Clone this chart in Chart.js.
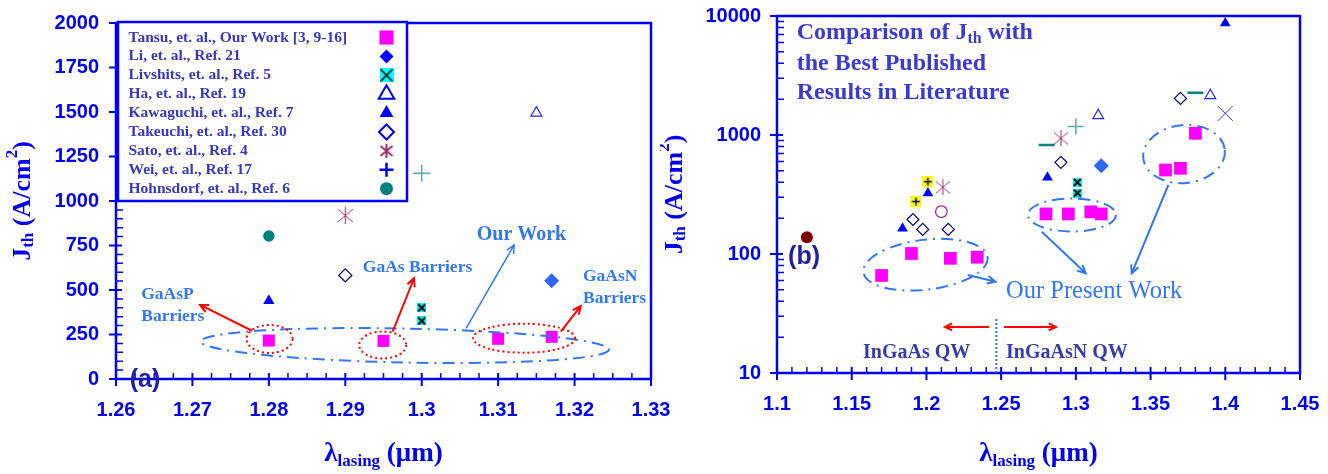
<!DOCTYPE html>
<html>
<head>
<meta charset="utf-8">
<script src="https://cdn.jsdelivr.net/npm/chart.js@4.4.1/dist/chart.umd.min.js"></script>
<style>
  html, body { margin: 0; padding: 0; background: #fff; }
  #wrap { position: relative; width: 1328px; height: 474px; overflow: hidden; }
  #chartA { position: absolute; left: 0; top: 0; width: 690px; height: 474px; }
  #chartB { position: absolute; left: 660px; top: 0; width: 668px; height: 474px; }
</style>
</head>
<body>
<div id="wrap">
  <canvas id="chartA" width="690" height="474"></canvas>
  <canvas id="chartB" width="668" height="474"></canvas>
</div>
<script>
// ---- panel (a): [lambda (um), Jth (A/cm2)] ----
var tansuA = [[1.28, 216], [1.295, 214], [1.31, 226], [1.317, 237]];
var liA = [[1.317, 552]];
var livshitsA = [[1.30, 400], [1.30, 326]];
var haA = [[1.315, 1495]];
var kawaguchiA = [[1.28, 440]];
var takeuchiA = [[1.29, 582]];
var satoA = [[1.29, 918]];
var weiA = [[1.30, 1156]];
var hohnsdorfA = [[1.28, 803]];

// ---- panel (b) ----
var tansuB = [[1.17, 66], [1.19, 101], [1.216, 92], [1.234, 94], [1.28, 217], [1.295, 217],
              [1.31, 226], [1.317, 217], [1.36, 508], [1.37, 525], [1.38, 1033]];
var liB = [[1.317, 552]];
var livshitsB = [[1.301, 400], [1.301, 325]];
var haB = [[1.315, 1460], [1.39, 2150]];
var kawaguchiB = [[1.184, 164], [1.201, 324], [1.281, 440], [1.40, 8700]];
var takeuchiB = [[1.191, 195], [1.1975, 161], [1.2146, 161], [1.29, 589], [1.37, 2030]];
var satoB = [[1.211, 363], [1.29, 937]];
var weiB = [[1.30, 1176]];
var weiYellowB = [[1.193, 276], [1.201, 405]];
var dashB = [[1.2805, 824], [1.38, 2265]];
var circleB = [[1.21, 227]];
var brownB = [[1.12, 138]];
var crossB = [[1.40, 1520]];

var xTicksA = [1.26, 1.27, 1.28, 1.29, 1.3, 1.31, 1.32, 1.33];
var yTicksA = [0, 250, 500, 750, 1000, 1250, 1500, 1750, 2000];
var xTicksB = [1.1, 1.15, 1.2, 1.25, 1.3, 1.35, 1.4, 1.45];
var yTicksB = [10, 100, 1000, 10000];

var AXIS = '#0000f0';
var LIGHT = '#3377ee';
var LEG_TXT = '#3838b8';
var SERIF = '"Liberation Serif", "Times New Roman", serif';
var SANS = '"Liberation Sans", Arial, sans-serif';
var NONE = 'rgba(0,0,0,0)';

function pts(a) { return a.map(function (p) { return { x: p[0], y: p[1] }; }); }

// small canvases used as point styles
function mk(size, draw) {
  var c = document.createElement('canvas');
  c.width = size; c.height = size;
  draw(c.getContext('2d'), size);
  return c;
}
function boxX(s, lw) {
  return mk(s, function (g) {
    g.fillStyle = '#00ffff'; g.fillRect(0, 0, s, s);
    g.strokeStyle = '#000'; g.lineWidth = lw;
    g.beginPath(); g.moveTo(1, 1); g.lineTo(s - 1, s - 1); g.moveTo(s - 1, 1); g.lineTo(1, s - 1); g.stroke();
  });
}
function asterisk(s, color, lw) {
  return mk(s, function (g) {
    g.strokeStyle = color; g.lineWidth = lw;
    g.beginPath();
    g.moveTo(s / 2, 0); g.lineTo(s / 2, s);
    g.moveTo(1, 2); g.lineTo(s - 1, s - 2);
    g.moveTo(s - 1, 2); g.lineTo(1, s - 2);
    g.stroke();
  });
}
function yellowPlus(s) {
  return mk(s, function (g) {
    g.fillStyle = '#ffff00'; g.fillRect(0, 0, s, s);
    g.strokeStyle = '#000080'; g.lineWidth = 1.5;
    g.beginPath(); g.moveTo(s / 2, 1.5); g.lineTo(s / 2, s - 1.5); g.moveTo(1.5, s / 2); g.lineTo(s - 1.5, s / 2); g.stroke();
  });
}

function ds(label, data, style, r, fill, stroke, bw) {
  return {
    label: label, data: pts(data), showLine: false, clip: false,
    pointStyle: style, pointRadius: r, pointHoverRadius: r,
    pointBackgroundColor: fill || NONE, pointBorderColor: stroke || NONE,
    pointBorderWidth: bw || 0
  };
}

var legendMarks = [
  { s: 'rect', r: 10, f: '#ff00ff', c: '#ff00ff', w: 0 },
  { s: 'rectRot', r: 7, f: '#0000ff', c: '#0000ff', w: 0 },
  { s: boxX(14, 1.5), r: 7 },
  { s: 'triangle', r: 9, f: '#fff', c: '#0000ff', w: 2 },
  { s: 'triangle', r: 8, f: '#0000ff', c: '#0000ff', w: 0 },
  { s: 'rectRot', r: 7.5, f: '#fff', c: '#0000ff', w: 2 },
  { s: asterisk(14, '#993366', 2), r: 7 },
  { s: 'cross', r: 7, f: NONE, c: '#0000ff', w: 2.5 },
  { s: 'circle', r: 6.5, f: '#008080', c: '#008080', w: 0 }
];

function pointAt(ctx, m, x, y) {
  ctx.fillStyle = m.f || NONE; ctx.strokeStyle = m.c || NONE; ctx.lineWidth = m.w || 0;
  Chart.helpers.drawPoint(ctx, { pointStyle: m.s, radius: m.r, borderWidth: m.w || 0, rotation: 0 }, x, y);
}

function rich(ctx, parts, x, y, align) {
  var total = 0;
  parts.forEach(function (p) { ctx.font = p[1]; total += ctx.measureText(p[0]).width; });
  var cx = align === 'center' ? x - total / 2 : x;
  ctx.textAlign = 'left';
  parts.forEach(function (p) { ctx.font = p[1]; ctx.fillText(p[0], cx, y + (p[2] || 0)); cx += ctx.measureText(p[0]).width; });
}

function yTitle(ctx, x, y) {
  ctx.save();
  ctx.translate(x, y); ctx.rotate(-Math.PI / 2);
  ctx.fillStyle = AXIS; ctx.textBaseline = 'middle';
  var big = 'bold 26px ' + SERIF, sm = 'bold 17px ' + SERIF;
  rich(ctx, [['J', big], ['th', sm, 6], [' (A/cm', big], ['2', sm, -10], [')', big]], 0, 0, 'center');
  ctx.restore();
}
function xTitle(ctx, x, y) {
  ctx.save();
  ctx.fillStyle = AXIS; ctx.textBaseline = 'middle';
  var big = 'bold 27px ' + SERIF, sm = 'bold 17px ' + SERIF;
  rich(ctx, [['\u03bb', big], ['lasing', sm, 8], [' (\u03bcm)', big]], x, y, 'center');
  ctx.restore();
}

function drawFrame(chart, minorX, minorY) {
  var ctx = chart.ctx, a = chart.chartArea, sx = chart.scales.x, sy = chart.scales.y;
  ctx.save();
  ctx.strokeStyle = AXIS;
  ctx.lineWidth = 2.5;
  ctx.strokeRect(a.left, a.top, a.right - a.left, a.bottom - a.top);
  ctx.lineWidth = 2;
  ctx.beginPath();
  sx.ticks.forEach(function (t) { var p = sx.getPixelForValue(t.value); ctx.moveTo(p, a.bottom - 6); ctx.lineTo(p, a.bottom + 7); });
  sy.ticks.forEach(function (t) { var p = sy.getPixelForValue(t.value); ctx.moveTo(a.left - 7, p); ctx.lineTo(a.left + 6, p); });
  ctx.stroke();
  ctx.lineWidth = 1.5;
  ctx.beginPath();
  minorX.forEach(function (v) { var p = sx.getPixelForValue(v); ctx.moveTo(p, a.bottom); ctx.lineTo(p, a.bottom - 6); });
  minorY.forEach(function (v) { var p = sy.getPixelForValue(v); ctx.moveTo(a.left, p); ctx.lineTo(a.left + 7, p); });
  ctx.stroke();
  ctx.restore();
}

function ellipse(ctx, c, rx, ry, rot, color, dash, lw) {
  ctx.save();
  ctx.strokeStyle = color; ctx.lineWidth = lw; ctx.setLineDash(dash);
  ctx.beginPath(); ctx.ellipse(c[0], c[1], rx, ry, rot, 0, Math.PI * 2); ctx.stroke();
  ctx.restore();
}
function arrow(ctx, p1, p2, color, lw, head) {
  var ang = Math.atan2(p2[1] - p1[1], p2[0] - p1[0]);
  ctx.save();
  ctx.strokeStyle = color; ctx.lineWidth = lw; ctx.setLineDash([]);
  ctx.beginPath();
  ctx.moveTo(p1[0], p1[1]); ctx.lineTo(p2[0], p2[1]);
  ctx.moveTo(p2[0] - head * Math.cos(ang - 0.45), p2[1] - head * Math.sin(ang - 0.45));
  ctx.lineTo(p2[0], p2[1]);
  ctx.lineTo(p2[0] - head * Math.cos(ang + 0.45), p2[1] - head * Math.sin(ang + 0.45));
  ctx.stroke();
  ctx.restore();
}
function label(ctx, str, p, font, color) {
  ctx.save();
  ctx.font = font; ctx.fillStyle = color; ctx.textAlign = 'left'; ctx.textBaseline = 'middle';
  ctx.fillText(str, p[0], p[1]);
  ctx.restore();
}

function at(chart, x, y) { return [chart.scales.x.getPixelForValue(x), chart.scales.y.getPixelForValue(y)]; }

function setTicks(arr) { return function (s) { s.ticks = arr.map(function (v) { return { value: v }; }); }; }

// tick label distance comes from tickLength (grid hidden) so the layout keeps the plot box where it should be
function axisOpts(extra, gap) {
  var o = {
    grid: { display: false, drawTicks: true, tickLength: gap },
    border: { display: false },
    ticks: {
      color: AXIS, autoSkip: false, maxRotation: 0, padding: 0,
      font: { family: SANS, weight: 'bold', size: 20 },
      callback: function (v) { return String(v); }
    }
  };
  for (var k in extra) o[k] = extra[k];
  return o;
}

// minor tick positions
var minorXA = [], minorYA = [], minorXB = [], minorYB = [];
for (var i = 0; i <= 28; i++) if (i % 4) minorXA.push(1.26 + i * 0.0025);
for (i = 0; i <= 40; i++) if (i % 5) minorYA.push(i * 50);
for (i = 0; i <= 35; i++) if (i % 5) minorXB.push(1.1 + i * 0.01);
[10, 100, 1000].forEach(function (d) { for (var k = 2; k <= 9; k++) minorYB.push(k * d); });

// ---------------- chart (a) ----------------
var decoA = {
  id: 'decoA',
  beforeDatasetsDraw: function (chart) {
    drawFrame(chart, minorXA, minorYA);
    var ctx = chart.ctx;
    yTitle(ctx, 23, (chart.chartArea.top + chart.chartArea.bottom) / 2);
    xTitle(ctx, (chart.chartArea.left + chart.chartArea.right) / 2, 454);
  },
  afterDatasetsDraw: function (chart) {
    var ctx = chart.ctx, a = chart.chartArea;
    var tf = 'bold 17.5px ' + SERIF;
    ellipse(ctx, at(chart, 1.2978, 188), 204, 17, 0.02, LIGHT, [12, 6, 2, 6], 2);
    ellipse(ctx, at(chart, 1.2801, 225), 23, 14, 0, '#ff0000', [2, 3], 2);
    ellipse(ctx, at(chart, 1.2949, 191), 23.5, 13.5, 0, '#ff0000', [2, 3], 2);
    ellipse(ctx, at(chart, 1.3134, 229), 51, 14.5, 0, '#ff0000', [2, 3], 2);
    arrow(ctx, at(chart, 1.2778, 271), at(chart, 1.2710, 416), '#ff0000', 2, 9);
    arrow(ctx, at(chart, 1.2962, 266), at(chart, 1.2990, 566), '#ff0000', 2, 9);
    arrow(ctx, at(chart, 1.3182, 266), at(chart, 1.3208, 410), '#ff0000', 2, 9);
    arrow(ctx, at(chart, 1.3058, 285), at(chart, 1.3121, 753), LIGHT, 1.5, 9);
    label(ctx, 'GaAsP', at(chart, 1.2633, 472), tf, LIGHT);
    label(ctx, 'Barriers', at(chart, 1.2633, 354), tf, LIGHT);
    label(ctx, 'GaAs Barriers', at(chart, 1.2923, 629), tf, LIGHT);
    label(ctx, 'Our Work', at(chart, 1.3072, 809), 'bold 20px ' + SERIF, LIGHT);
    label(ctx, 'GaAsN', at(chart, 1.3211, 575), tf, LIGHT);
    label(ctx, 'Barriers', at(chart, 1.3211, 453), tf, LIGHT);
    label(ctx, '(a)', at(chart, 1.2618, -6), 'bold 25px ' + SANS, '#2020a0');

    // legend
    var lx = a.left + 2, ly = a.top - 1, lw = 289, lh = 179;
    ctx.save();
    ctx.fillStyle = '#fff'; ctx.fillRect(lx, ly, lw, lh);
    ctx.strokeStyle = '#0000ff'; ctx.lineWidth = 2.5; ctx.strokeRect(lx, ly, lw, lh);
    ctx.textBaseline = 'middle'; ctx.textAlign = 'left';
    chart.data.datasets.forEach(function (d, k) {
      var yy = ly + 15.5 + k * 18.9;
      ctx.font = 'bold 15.5px ' + SERIF; ctx.fillStyle = LEG_TXT;
      ctx.fillText(d.label, lx + 10.5, yy);
      pointAt(ctx, legendMarks[k], lx + 268.5, yy);
    });
    ctx.restore();
  }
};

new Chart(document.getElementById('chartA'), {
  type: 'scatter',
  data: {
    datasets: [
      ds('Tansu, et. al., Our Work [3, 9-16]', tansuA, 'rect', 8.5, '#ff00ff'),
      ds('Li, et. al., Ref. 21', liA, 'rectRot', 7.5, '#3366ee'),
      ds('Livshits, et. al., Ref. 5', livshitsA, boxX(9, 2), 5),
      ds('Ha, et. al., Ref. 19', haA, 'triangle', 6.3, NONE, '#2222ff', 1.2),
      ds('Kawaguchi, et. al., Ref. 7', kawaguchiA, 'triangle', 6.5, '#0000ff'),
      ds('Takeuchi, et. al., Ref. 30', takeuchiA, 'rectRot', 6.5, NONE, '#000080', 1.2),
      ds('Sato, et. al., Ref. 4', satoA, asterisk(17, '#993366', 1), 8),
      ds('Wei, et. al., Ref. 17', weiA, 'cross', 8.5, NONE, '#5fa8a8', 1.5),
      ds('Hohnsdorf, et. al., Ref. 6', hohnsdorfA, 'circle', 5.7, '#008080')
    ]
  },
  options: {
    responsive: false, animation: false, events: [],
    layout: { padding: { left: 0, top: 23, right: 39, bottom: 0 } },
    plugins: { legend: { display: false }, tooltip: { enabled: false } },
    scales: {
      x: axisOpts({ type: 'linear', min: 1.26, max: 1.33, afterBuildTicks: setTicks(xTicksA),
        afterFit: function (s) { s.height = 95; } }, 19),
      y: axisOpts({ type: 'linear', min: 0, max: 2000, afterBuildTicks: setTicks(yTicksA),
        afterFit: function (s) { s.width = 116; } }, 17)
    }
  },
  plugins: [decoA]
});

// ---------------- chart (b) ----------------
var decoB = {
  id: 'decoB',
  beforeDatasetsDraw: function (chart) {
    drawFrame(chart, minorXB, minorYB);
    var ctx = chart.ctx;
    yTitle(ctx, 15, (chart.chartArea.top + chart.chartArea.bottom) / 2);
    xTitle(ctx, (chart.chartArea.left + chart.chartArea.right) / 2, 454);
  },
  afterDatasetsDraw: function (chart) {
    var ctx = chart.ctx;
    var big = 'bold 24px ' + SERIF;
    ctx.save();
    ctx.fillStyle = '#3b3bcc'; ctx.textBaseline = 'middle';
    var p = at(chart, 1.1132, 7156);
    rich(ctx, [['Comparison of J', big], ['th', 'bold 16px ' + SERIF, 6], [' with', big]], p[0], p[1], 'left');
    ctx.restore();
    label(ctx, 'the Best Published', at(chart, 1.1132, 4003), big, '#3b3bcc');
    label(ctx, 'Results in Literature', at(chart, 1.1132, 2267), big, '#3b3bcc');
    label(ctx, '(b)', at(chart, 1.1074, 94.4), 'bold 25px ' + SANS, '#2020a0');

    ellipse(ctx, at(chart, 1.1994, 81.3), 62.5, 25, -0.12, LIGHT, [12, 6, 2, 6], 2);
    ellipse(ctx, at(chart, 1.2974, 212.7), 44, 16.5, 0, LIGHT, [12, 6, 2, 6], 2);
    ellipse(ctx, at(chart, 1.3724, 692), 41, 29, -0.1, LIGHT, [12, 6, 2, 6], 2);
    arrow(ctx, at(chart, 1.2772, 154), at(chart, 1.3066, 68.8), LIGHT, 2, 9);
    arrow(ctx, at(chart, 1.3619, 380), at(chart, 1.3374, 68.8), LIGHT, 2, 9);
    arrow(ctx, at(chart, 1.2278, 66.6), at(chart, 1.2462, 58.5), LIGHT, 2, 9);
    label(ctx, 'Our Present Work', at(chart, 1.2533, 48.2), '24.5px ' + SERIF, LIGHT);

    arrow(ctx, at(chart, 1.2419, 24.4), at(chart, 1.2124, 24.4), '#ff0000', 2, 8);
    arrow(ctx, at(chart, 1.2519, 24.4), at(chart, 1.2867, 24.4), '#ff0000', 2, 8);
    var t = at(chart, 1.2468, 28.4), b = at(chart, 1.2468, 10);
    ctx.save();
    ctx.strokeStyle = '#3366ff'; ctx.lineWidth = 2; ctx.setLineDash([2, 2]);
    ctx.beginPath(); ctx.moveTo(t[0], t[1]); ctx.lineTo(b[0], b[1]); ctx.stroke();
    ctx.restore();
    label(ctx, 'InGaAs QW', at(chart, 1.1576, 14.9), 'bold 20px ' + SERIF, '#3b3ba6');
    label(ctx, 'InGaAsN QW', at(chart, 1.2533, 14.9), 'bold 20px ' + SERIF, '#3b3ba6');
  }
};

new Chart(document.getElementById('chartB'), {
  type: 'scatter',
  data: {
    datasets: [
      ds('Tansu, et. al., Our Work', tansuB, 'rect', 9, '#ff00ff'),
      ds('Li, et. al.', liB, 'rectRot', 7.5, '#3366ee'),
      ds('Livshits, et. al.', livshitsB, boxX(9, 2), 5),
      ds('open triangle', haB, 'triangle', 6.2, NONE, '#2222ff', 1.2),
      ds('filled triangle', kawaguchiB, 'triangle', 6.2, '#0000ff'),
      ds('open diamond', takeuchiB, 'rectRot', 6, NONE, '#000080', 1.2),
      ds('asterisk', satoB, asterisk(16, '#993366', 1), 8),
      ds('teal plus', weiB, 'cross', 8, NONE, '#5fa8a8', 1.5),
      ds('yellow plus', weiYellowB, yellowPlus(11), 5.5),
      ds('teal dash', dashB, 'line', 8, NONE, '#008080', 2.5),
      ds('open circle', circleB, 'circle', 5.8, NONE, '#993399', 1.3),
      ds('brown circle', brownB, 'circle', 6, '#800000'),
      ds('blue cross', crossB, 'crossRot', 10.6, NONE, '#3333ff', 1)
    ]
  },
  options: {
    responsive: false, animation: false, events: [],
    layout: { padding: { left: 0, top: 16, right: 28, bottom: 0 } },
    plugins: { legend: { display: false }, tooltip: { enabled: false } },
    scales: {
      x: axisOpts({ type: 'linear', min: 1.1, max: 1.45, afterBuildTicks: setTicks(xTicksB),
        afterFit: function (s) { s.height = 101; } }, 19),
      y: axisOpts({ type: 'logarithmic', min: 10, max: 10000, afterBuildTicks: setTicks(yTicksB),
        afterFit: function (s) { s.width = 117; } }, 16)
    }
  },
  plugins: [decoB]
});
</script>
</body>
</html>
